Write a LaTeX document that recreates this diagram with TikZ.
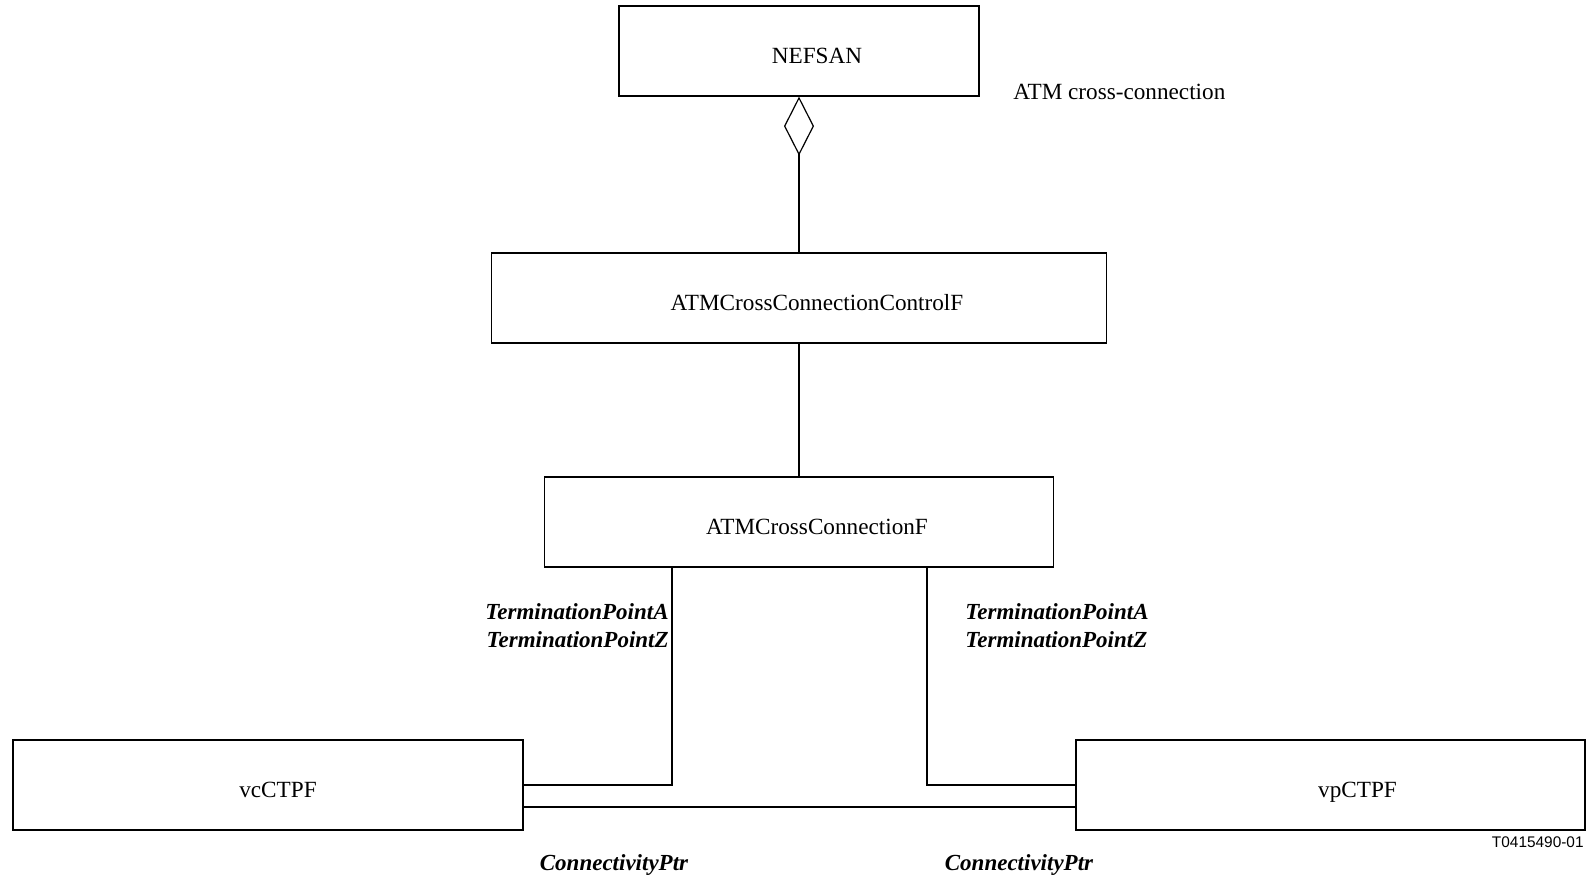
\documentclass[tikz,border=0pt]{standalone}
\usepackage{fontspec}
\setmainfont{Liberation Serif}
\newfontfamily\figsans{Liberation Sans}
\usetikzlibrary{arrows.meta}

\tikzset{
  box/.style={draw,line width=0.6pt,minimum height=45pt,inner sep=0pt,
    text height=12.2pt,text depth=0pt,
    font=\fontsize{11.6}{14}\selectfont,
    execute at begin node={\hspace*{#1}}},
  box/.default=18pt,
  role/.style={font=\fontsize{11.5}{14}\selectfont\bfseries\itshape,inner sep=0pt},
}

\begin{document}
\begin{tikzpicture}[x=0.5pt,y=-0.5pt]
      \useasboundingbox (0,0) rectangle (1592,878);

      \node[box,minimum width=180pt] (nefsan) at (799,51) {NEFSAN};
      \node[box,minimum width=307.5pt,below of=nefsan,node distance=123.5pt] (control) {ATMCrossConnectionControlF};
      \node[box,minimum width=254.5pt,below of=control,node distance=112pt] (cross) {ATMCrossConnectionF};
      \node[box=10pt,minimum width=255pt,below of=cross,node distance=131.5pt,xshift=-265.5pt] (vc) {vcCTPF};
      \node[box=27pt,minimum width=254.5pt,below of=cross,node distance=131.5pt,xshift=265.75pt] (vp) {vpCTPF};

      \node[anchor=west,inner sep=0pt,font=\fontsize{11.6}{14}\selectfont] (title) at (1013,92) {ATM cross-connection};

      % aggregation
      \draw[line width=0.6pt,-{Diamond[open,length=29.5pt,width=15pt]}] (control) -- (nefsan);
      \draw[line width=0.6pt] (cross) -- (control);

      % termination points
      \draw[line width=0.6pt] ([xshift=-63.5pt]cross.south) |- (vc.east);
      \draw[line width=0.6pt] ([xshift=64pt]cross.south) |- (vp.west);
      \node[role,anchor=east,align=right] (tpl) at (669,626) {TerminationPointA\\TerminationPointZ};
      \node[role,anchor=west,align=left] (tpr) at (965,626) {TerminationPointA\\TerminationPointZ};

      % connectivity
      \draw[line width=1.2pt] ([yshift=-11pt]vc.east) -- ([yshift=-11pt]vp.west);
      \node[role] (cpl) at (614,865) {ConnectivityPtr};
      \node[role] (cpr) at (1019,865) {ConnectivityPtr};

      \node[anchor=east,inner sep=0pt,font=\figsans\fontsize{7.7}{9}\selectfont] (tag) at (1584,842) {T0415490-01};
    \end{tikzpicture}
\end{document}
